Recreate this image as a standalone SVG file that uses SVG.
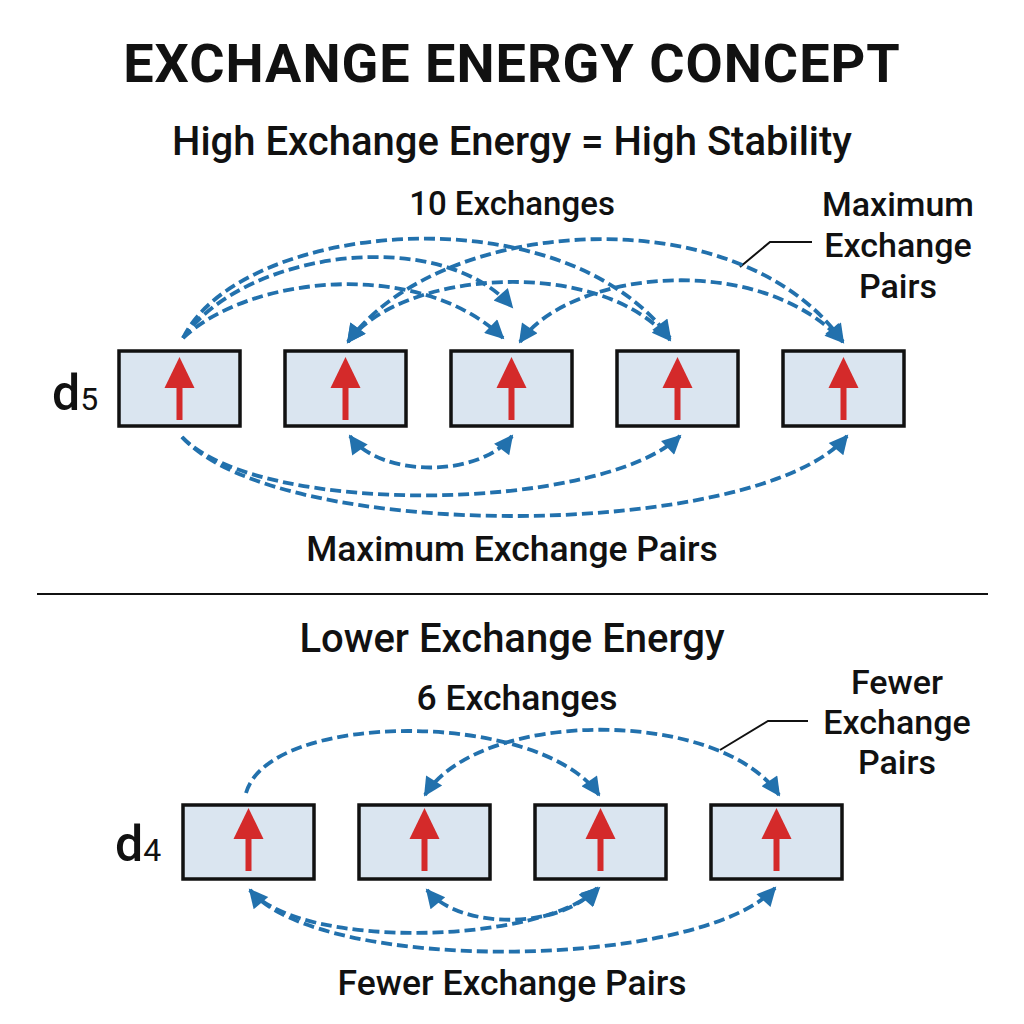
<svg xmlns="http://www.w3.org/2000/svg" width="1024" height="1024" viewBox="0 0 1024 1024">
<style>
.t{font-family:Roboto,"Liberation Sans",sans-serif;fill:#111;text-anchor:middle}
.title{font-size:54px;font-weight:700;letter-spacing:1px}
.sub{font-size:40px;font-weight:500}
.lbl{font-size:34px;font-weight:500}
.orb{fill:#dae5f0;stroke:#111;stroke-width:3.5}
.spin{fill:#d42a2a}
.ex{fill:none;stroke:#2271ad;stroke-width:3.8;stroke-dasharray:11 5}
.lead{fill:none;stroke:#111;stroke-width:2}
</style>
<defs>
<marker id="ah" viewBox="0 0 10 10" refX="9" refY="5" markerWidth="22" markerHeight="19" markerUnits="userSpaceOnUse" orient="auto-start-reverse">
<path d="M0,0 L10,5 L0,10 z" fill="#2271ad"/>
</marker>
<g id="up"><rect x="-3" y="-2" width="6" height="34" class="spin"/><path d="M0,-31 L15,0 L-15,0 z" class="spin"/></g>
</defs>
<rect width="1024" height="1024" fill="#ffffff"/>
<text class="t title" x="512" y="82">EXCHANGE ENERGY CONCEPT</text>
<text class="t sub" x="512" y="155">High Exchange Energy = High Stability</text>
<text class="t lbl" x="512" y="215" style="font-size:33px">10 Exchanges</text>
<g id="label-max"><text class="t lbl" x="898" y="216">Maximum</text><text class="t lbl" x="898" y="257">Exchange</text><text class="t lbl" x="898" y="298">Pairs</text>
<path class="lead" d="M740,267 L770,242 L812,242"/></g>
<text x="52" y="410" style="font-family:Roboto,'Liberation Sans',sans-serif;fill:#111"><tspan font-size="50" font-weight="500">d</tspan><tspan font-size="32">5</tspan></text>
<g id="d5-boxes">
<g id="d5-1"><rect class="orb" x="119" y="351" width="121" height="75"/><use href="#up" x="179.5" y="388"/></g>
<g id="d5-2"><rect class="orb" x="285" y="351" width="121" height="75"/><use href="#up" x="345.5" y="388"/></g>
<g id="d5-3"><rect class="orb" x="451" y="351" width="121" height="75"/><use href="#up" x="511.5" y="388"/></g>
<g id="d5-4"><rect class="orb" x="617" y="351" width="121" height="75"/><use href="#up" x="677.5" y="388"/></g>
<g id="d5-5"><rect class="orb" x="783" y="351" width="121" height="75"/><use href="#up" x="843.5" y="388"/></g>
</g>
<g id="d5-connectors">
<path class="ex" d="M183,338 C240,222 560,190 670,338" marker-end="url(#ah)"/>
<path class="ex" d="M183,338 C245,250 440,225 512,307" marker-end="url(#ah)"/>
<path class="ex" d="M183,338 C250,275 420,258 503,338" marker-end="url(#ah)"/>
<path class="ex" d="M348,342 C440,215 740,195 843,342" marker-start="url(#ah)" marker-end="url(#ah)"/>
<path class="ex" d="M520,342 C570,270 760,250 843,342" marker-start="url(#ah)" marker-end="url(#ah)"/>
<path class="ex" d="M348,342 C400,270 600,255 670,340" marker-start="url(#ah)" marker-end="url(#ah)"/>
<path class="ex" d="M350,436 C380,478 480,478 512,436" marker-start="url(#ah)" marker-end="url(#ah)"/>
<path class="ex" d="M182,437 C260,518 600,512 680,436" marker-end="url(#ah)"/>
<path class="ex" d="M182,437 C280,545 760,540 847,436" marker-end="url(#ah)"/>
</g>
<text class="t lbl" x="512" y="561" style="font-size:35.5px">Maximum Exchange Pairs</text>
<line x1="37" y1="594" x2="988" y2="594" stroke="#111" stroke-width="2"/>
<text class="t sub" x="512" y="652">Lower Exchange Energy</text>
<text class="t lbl" x="517" y="710" style="font-size:35.5px">6 Exchanges</text>
<g id="label-fewer"><text class="t lbl" x="897" y="694">Fewer</text><text class="t lbl" x="897" y="734">Exchange</text><text class="t lbl" x="897" y="774">Pairs</text>
<path class="lead" d="M720,750 L768,721 L808,721"/></g>
<text x="115" y="861" style="font-family:Roboto,'Liberation Sans',sans-serif;fill:#111"><tspan font-size="50" font-weight="500">d</tspan><tspan font-size="32">4</tspan></text>
<g id="d4-boxes">
<g id="d4-1"><rect class="orb" x="183" y="805" width="131" height="74"/><use href="#up" x="248.5" y="839"/></g>
<g id="d4-2"><rect class="orb" x="359" y="805" width="131" height="74"/><use href="#up" x="424.5" y="839"/></g>
<g id="d4-3"><rect class="orb" x="535" y="805" width="131" height="74"/><use href="#up" x="600.5" y="839"/></g>
<g id="d4-4"><rect class="orb" x="711" y="805" width="131" height="74"/><use href="#up" x="776.5" y="839"/></g>
</g>
<g id="d4-connectors">
<path class="ex" d="M246,793 C270,710 540,710 599,795" marker-end="url(#ah)"/>
<path class="ex" d="M425,795 C480,708 720,708 779,795" marker-start="url(#ah)" marker-end="url(#ah)"/>
<path class="ex" d="M250,890 C300,950 540,945 599,888" marker-start="url(#ah)" marker-end="url(#ah)"/>
<path class="ex" d="M427,890 C460,930 560,930 597,888" marker-start="url(#ah)" marker-end="url(#ah)"/>
<path class="ex" d="M250,890 C320,975 700,970 775,888" marker-end="url(#ah)"/>
</g>
<text class="t lbl" x="512" y="995" style="font-size:35.5px">Fewer Exchange Pairs</text>
</svg>
